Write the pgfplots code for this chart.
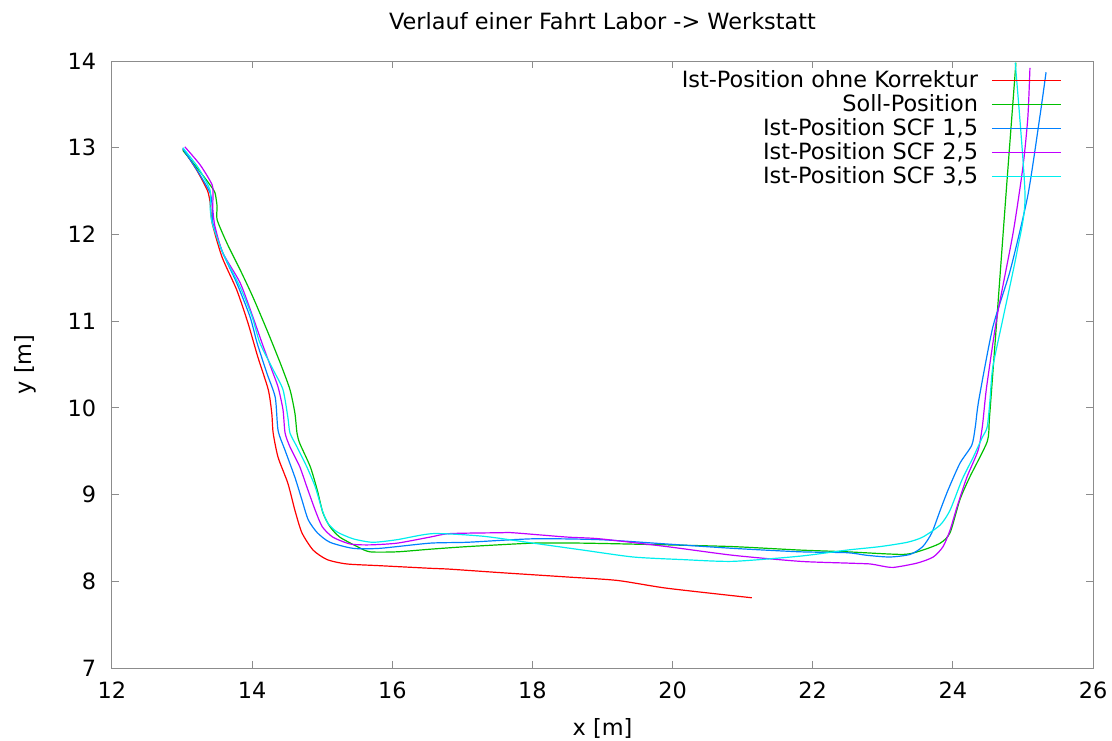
\documentclass[border=0pt]{standalone}
\usepackage{fontspec}
\setmainfont{DejaVu Sans}
\usepackage{pgfplots}
\pgfplotsset{compat=1.18}
\definecolor{gred}{HTML}{FF0000}
\definecolor{ggreen}{HTML}{00C000}
\definecolor{gblue}{HTML}{0080FF}
\definecolor{gpurple}{HTML}{C000FF}
\definecolor{gcyan}{HTML}{00EEEE}
\pgfplotsset{
  glegend/.style={legend image code/.code={\draw[#1,line width=0.8pt] (0pt,0.25pt) -- (34.5pt,0.25pt);}},
}
\begin{document}
\fontsize{11.2}{13.4}\selectfont
\begin{tikzpicture}
\useasboundingbox (-56pt,-36pt) rectangle (500pt,334pt);
\begin{axis}[
  scale only axis,
  width=490.5pt, height=303.5pt,
  xmin=12, xmax=26, ymin=7, ymax=14,
  xtick={12,14,...,26}, ytick={7,8,...,14},
  axis line style={black!45, line width=0.5pt},
  tick style={black!45, line width=0.5pt},
  tick align=inside, major tick length=3.5pt,
  minor tick num=0,
  /pgf/number format/assume math mode=true,
  ticklabel style={font=\fontsize{11.2}{13.4}\selectfont},
  x tick label style={anchor=center, yshift=-11pt},
  y tick label style={anchor=east, xshift=-4pt},
  title={Verlauf einer Fahrt Labor -> Werkstatt},
  title style={at={(axis description cs:0.5,1)}, anchor=center, yshift=14pt, font=\fontsize{11.2}{13.4}\selectfont},
  xlabel={x [m]},
  xlabel style={at={(axis description cs:0.5,0)}, anchor=center, yshift=-30pt, font=\fontsize{11.2}{13.4}\selectfont},
  ylabel={y [m]},
  ylabel style={at={(axis description cs:-0.0887,0.5)}, anchor=center, font=\fontsize{11.2}{13.4}\selectfont},
  legend plot pos=right,
  legend cell align=right,
  legend style={draw=none, fill=none, inner sep=0pt, row sep=0pt, column sep=5.5pt,
    at={(axis description cs:0.9684,0.9872)}, anchor=north east,
    font=\fontsize{11.2}{13.4}\selectfont,
    nodes={inner sep=1pt, text height=8.2pt, text depth=1.8pt}},
  every axis plot/.append style={line width=0.6pt, line join=round, smooth, tension=0.4},
]
\addplot[gred, glegend=gred] coordinates {
(13.01,12.99) (13.21,12.74) (13.36,12.51) (13.40,12.37) (13.43,12.13)
(13.57,11.74) (13.78,11.36) (13.94,10.98) (14.08,10.59) (14.23,10.21)
(14.28,9.94) (14.30,9.71) (14.37,9.43) (14.51,9.13) (14.61,8.82)
(14.71,8.56) (14.87,8.36) (15.07,8.25) (15.35,8.20) (15.82,8.18)
(16.54,8.15) (16.82,8.14) (17.54,8.10) (18.49,8.05) (19.21,8.01)
(19.92,7.92) (21.13,7.81)
};
\addlegendentry{Ist-Position ohne Korrektur}
\addplot[ggreen, glegend=ggreen] coordinates {
(13.01,12.97) (13.26,12.72) (13.40,12.57) (13.47,12.48) (13.50,12.32)
(13.50,12.17) (13.64,11.90) (13.83,11.59) (14.01,11.28) (14.21,10.90)
(14.40,10.52) (14.54,10.21) (14.61,9.94) (14.64,9.71) (14.68,9.59)
(14.83,9.32) (14.93,9.05) (15.01,8.79) (15.11,8.63) (15.25,8.51)
(15.50,8.40) (15.68,8.34) (16.07,8.34) (16.54,8.37) (17.07,8.40)
(18.01,8.44) (18.72,8.44) (19.92,8.42) (20.86,8.40) (21.82,8.36)
(22.49,8.34) (23.29,8.31) (23.57,8.36) (23.82,8.44) (23.96,8.56)
(24.10,8.94) (24.24,9.20) (24.49,9.61) (24.52,9.86) (24.56,10.29)
(24.63,11.05) (24.77,12.59) (24.90,13.98)
};
\addlegendentry{Soll-Position}
\addplot[gblue, glegend=gblue] coordinates {
(13.01,12.99) (13.23,12.72) (13.40,12.48) (13.43,12.32) (13.44,12.13)
(13.58,11.79) (13.78,11.44) (13.97,11.05) (14.07,10.75) (14.21,10.40)
(14.33,10.12) (14.37,9.74) (14.47,9.51) (14.61,9.20) (14.71,8.94)
(14.80,8.71) (14.93,8.56) (15.11,8.45) (15.44,8.38) (15.82,8.38)
(16.54,8.44) (17.07,8.45) (18.01,8.49) (18.96,8.48) (19.92,8.43)
(20.86,8.38) (21.82,8.34) (22.49,8.33) (22.77,8.30) (23.10,8.28)
(23.39,8.31) (23.57,8.40) (23.70,8.56) (23.82,8.82) (23.93,9.05)
(24.10,9.36) (24.27,9.57) (24.32,9.78) (24.37,10.09) (24.57,10.93)
(24.82,11.59) (25.07,12.45) (25.24,13.35) (25.33,13.87)
};
\addlegendentry{Ist-Position SCF 1,5}
\addplot[gpurple, glegend=gpurple] coordinates {
(13.04,13.01) (13.26,12.80) (13.43,12.57) (13.44,12.43) (13.44,12.28)
(13.47,12.09) (13.58,11.79) (13.83,11.44) (14.01,11.05) (14.14,10.75)
(14.28,10.44) (14.37,10.24) (14.44,9.98) (14.47,9.71) (14.54,9.55)
(14.68,9.32) (14.78,9.09) (14.90,8.82) (15.00,8.63) (15.15,8.51)
(15.40,8.43) (15.68,8.42) (16.07,8.44) (16.54,8.51) (16.82,8.55)
(17.54,8.56) (17.72,8.56) (18.49,8.51) (18.96,8.49) (19.92,8.40)
(20.86,8.30) (21.82,8.23) (22.49,8.21) (22.82,8.20) (22.96,8.18)
(23.15,8.16) (23.49,8.21) (23.72,8.28) (23.86,8.40) (23.96,8.59)
(24.06,8.86) (24.20,9.20) (24.36,9.51) (24.42,9.78) (24.46,10.09)
(24.49,10.29) (24.63,11.05) (24.86,12.02) (25.00,12.78) (25.07,13.35)
(25.10,13.92)
};
\addlegendentry{Ist-Position SCF 2,5}
\addplot[gcyan, glegend=gcyan] coordinates {
(13.01,13.00) (13.23,12.77) (13.40,12.51) (13.40,12.32) (13.43,12.13)
(13.58,11.79) (13.83,11.39) (14.00,11.05) (14.11,10.75) (14.30,10.44)
(14.44,10.21) (14.51,9.89) (14.54,9.71) (14.64,9.55) (14.78,9.32)
(14.90,9.09) (15.00,8.82) (15.08,8.67) (15.21,8.57) (15.44,8.49)
(15.72,8.45) (16.07,8.48) (16.58,8.55) (17.29,8.52) (18.01,8.44)
(18.72,8.36) (19.44,8.28) (20.15,8.25) (20.86,8.23) (21.82,8.29)
(22.49,8.36) (22.96,8.40) (23.35,8.45) (23.57,8.51) (23.82,8.65)
(23.96,8.82) (24.13,9.17) (24.29,9.43) (24.42,9.66) (24.49,9.78)
(24.53,10.09) (24.57,10.47) (24.72,11.05) (24.92,11.82) (25.03,12.45)
(24.89,13.98)
};
\addlegendentry{Ist-Position SCF 3,5}
\end{axis}
\end{tikzpicture}
\end{document}
